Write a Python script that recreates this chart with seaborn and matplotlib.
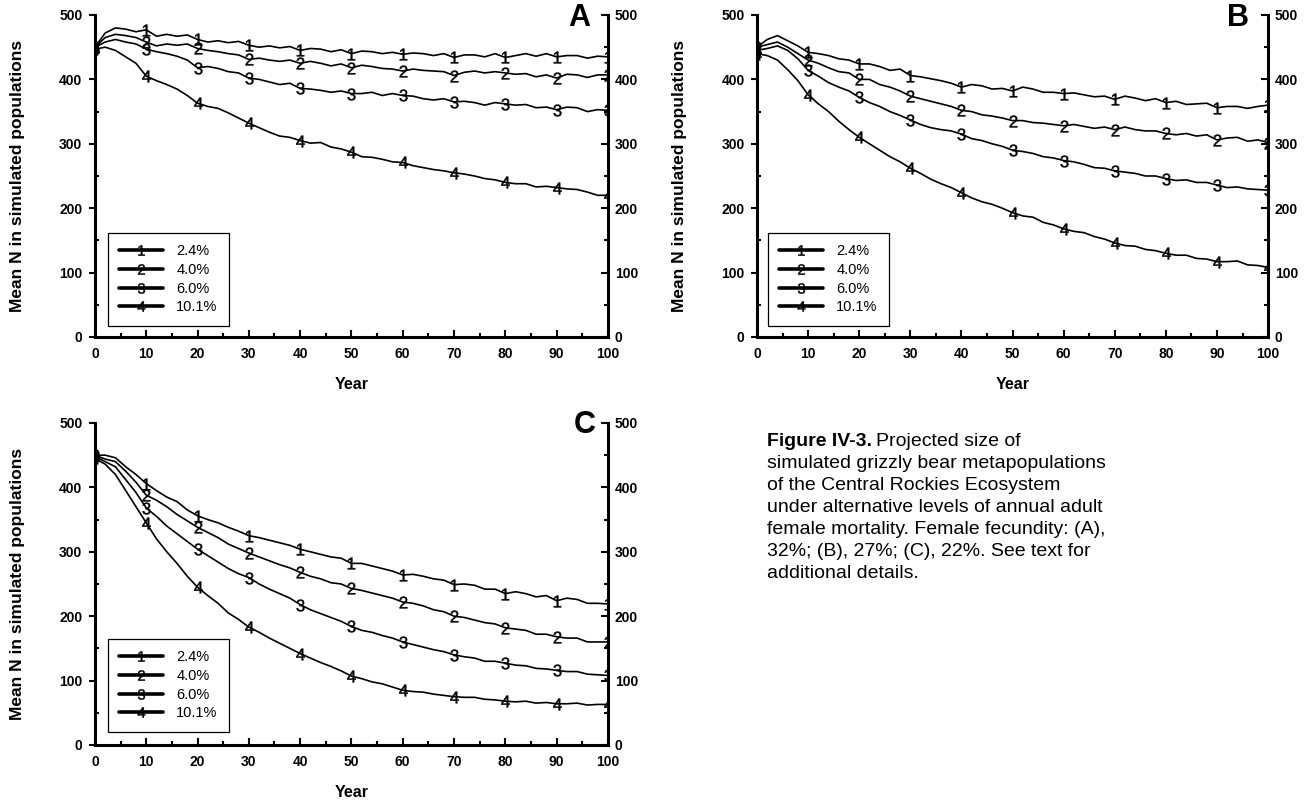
import matplotlib
matplotlib.use("Agg")
import matplotlib.pyplot as plt
import pandas as pd
import seaborn as sns
from matplotlib.lines import Line2D

# ---------------- data ----------------
years = list(range(0, 101, 2))
mortality_labels = ["2.4%", "4.0%", "6.0%", "10.1%"]
panel_letters = ["A", "B", "C"]

a_24 = [450, 472, 480, 478, 474, 477, 467, 470, 467, 469,
        462, 458, 460, 457, 459, 453, 450, 452, 449, 451,
        445, 448, 447, 443, 446, 440, 444, 443, 440, 442,
        439, 441, 440, 437, 440, 434, 438, 438, 435, 440,
        434, 437, 440, 436, 440, 435, 437, 437, 433, 436,
        435]
a_40 = [450, 465, 470, 468, 465, 458, 452, 455, 453, 455,
        448, 445, 443, 440, 438, 431, 433, 430, 428, 430,
        425, 428, 425, 421, 424, 418, 422, 420, 417, 416,
        413, 416, 414, 413, 412, 406, 411, 413, 410, 412,
        410, 408, 409, 404, 407, 402, 408, 407, 403, 407,
        407]
a_60 = [450, 458, 462, 458, 455, 447, 443, 440, 436, 430,
        418, 420, 417, 412, 410, 402, 400, 396, 392, 394,
        386, 385, 383, 380, 382, 378, 378, 380, 375, 378,
        375, 374, 370, 368, 370, 365, 366, 364, 360, 364,
        362, 360, 361, 356, 357, 353, 357, 356, 350, 353,
        352]
a_101 = [447, 450, 445, 435, 425, 405, 398, 392, 385, 375,
         363, 358, 355, 348, 340, 332, 325, 318, 312, 310,
         305, 301, 302, 295, 292, 287, 280, 279, 276, 272,
         271, 266, 263, 260, 258, 255, 253, 250, 246, 244,
         240, 238, 238, 233, 234, 232, 230, 229, 225, 220,
         220]

b_24 = [450, 462, 468, 460, 452, 442, 440, 437, 432, 430,
        424, 424, 420, 414, 416, 406, 404, 401, 398, 394,
        388, 392, 390, 385, 386, 382, 388, 385, 380, 380,
        378, 379, 376, 373, 374, 369, 374, 371, 367, 370,
        364, 366, 361, 362, 363, 356, 358, 358, 355, 358,
        360]
b_40 = [450, 454, 458, 450, 440, 430, 425, 418, 412, 410,
        400, 400, 392, 388, 382, 374, 370, 366, 362, 358,
        352, 350, 345, 343, 340, 336, 336, 333, 332, 330,
        328, 330, 327, 324, 326, 322, 326, 322, 320, 320,
        316, 314, 316, 312, 314, 306, 309, 310, 304, 306,
        302]
b_60 = [445, 448, 452, 445, 432, 414, 405, 395, 388, 382,
        372, 364, 358, 350, 344, 337, 330, 325, 322, 320,
        315, 308, 305, 300, 296, 290, 288, 285, 280, 278,
        274, 272, 268, 263, 262, 258, 256, 254, 250, 250,
        246, 243, 244, 240, 240, 236, 232, 233, 230, 229,
        228]
b_101 = [440, 437, 430, 415, 398, 376, 362, 350, 335, 322,
         310, 300, 290, 280, 272, 262, 254, 245, 238, 232,
         224, 216, 210, 206, 200, 193, 188, 186, 178, 174,
         168, 164, 162, 156, 152, 146, 142, 141, 136, 134,
         130, 127, 127, 122, 121, 117, 117, 118, 112, 111,
         108]

c_24 = [450, 450, 446, 432, 420, 406, 395, 385, 378, 365,
        356, 350, 345, 338, 332, 325, 322, 318, 314, 310,
        304, 300, 296, 292, 290, 282, 282, 278, 274, 270,
        264, 265, 262, 258, 256, 249, 250, 248, 242, 242,
        235, 238, 235, 230, 232, 224, 228, 226, 220, 220,
        219]
c_40 = [450, 444, 440, 425, 408, 388, 380, 370, 358, 348,
        338, 330, 322, 312, 305, 298, 292, 286, 280, 275,
        268, 262, 258, 252, 250, 243, 240, 236, 232, 228,
        222, 220, 216, 210, 207, 200, 198, 194, 190, 188,
        182, 180, 178, 172, 172, 168, 166, 166, 160, 160,
        160]
c_60 = [448, 440, 432, 412, 392, 368, 355, 340, 328, 316,
        304, 294, 284, 274, 266, 260, 250, 242, 235, 228,
        218, 210, 204, 198, 192, 184, 178, 175, 170, 166,
        160, 156, 152, 148, 145, 140, 137, 135, 130, 130,
        127, 124, 123, 119, 118, 116, 114, 114, 110, 109,
        108]
c_101 = [445, 436, 420, 395, 370, 345, 320, 300, 282, 262,
         245, 232, 220, 205, 195, 183, 175, 166, 158, 150,
         142, 135, 128, 122, 115, 107, 103, 98, 95, 90,
         85, 83, 82, 79, 77, 75, 74, 74, 71, 70,
         68, 67, 68, 65, 66, 64, 64, 65, 62, 63,
         63]

caption_lines = [
    "simulated grizzly bear metapopulations",
    "of the Central Rockies Ecosystem",
    "under alternative levels of annual adult",
    "female mortality. Female fecundity: (A),",
    "32%; (B), 27%; (C), 22%. See text for",
    "additional details.",
]

# ---------------- style ----------------
sns.set_style("ticks")
plt.rcParams["font.family"] = ["Liberation Sans", "DejaVu Sans"]
plt.rcParams["mathtext.fontset"] = "custom"
plt.rcParams["mathtext.rm"] = "Liberation Sans"
plt.rcParams["mathtext.it"] = "Liberation Sans"
plt.rcParams["mathtext.default"] = "regular"
for key in ["text.color", "axes.labelcolor", "xtick.color", "ytick.color", "axes.edgecolor"]:
    plt.rcParams[key] = "black"

W, H = 1315, 806
fig = plt.figure(figsize=(W / 100, H / 100), dpi=100)

panels = {
    "A": ([a_24, a_40, a_60, a_101], [0.0722, 0.5819, 0.3901, 0.3995], 0.945, 0.992, 0.025, 0.034),
    "B": ([b_24, b_40, b_60, b_101], [0.5757, 0.5819, 0.3886, 0.3995], 0.941, 0.992, 0.021, 0.034),
    "C": ([c_24, c_40, c_60, c_101], [0.0722, 0.0757, 0.3901, 0.3995], 0.955, 0.994, 0.025, 0.040),
}

SPINE_LW = 2.2
for letter in panel_letters:
    series, rect, lx, ly, legx, legy = panels[letter]
    ax = fig.add_axes(rect)
    for i, vals in enumerate(series):
        df = pd.DataFrame({"Year": years, "N": vals})
        sns.lineplot(data=df, x="Year", y="N", ax=ax, color="black", lw=1.2,
                     marker=f"${i + 1}$", markevery=5, markersize=8.5,
                     markerfacecolor="black", markeredgecolor="black",
                     markeredgewidth=0.3, estimator=None)
    ax.set_xlim(0, 100)
    ax.set_ylim(0, 500)
    ax.set_xticks(range(0, 101, 10))
    ax.set_xticks(range(5, 100, 10), minor=True)
    ax.set_yticks(range(0, 501, 100))
    ax.set_yticks(range(50, 500, 100), minor=True)
    ax.spines["top"].set_visible(False)
    ax.spines["right"].set_visible(False)
    for s in ["left", "bottom"]:
        ax.spines[s].set_linewidth(SPINE_LW)
        ax.spines[s].set_color("black")
    ax.tick_params(axis="x", which="major", direction="in", length=5, width=1.5,
                   pad=7, labelsize=10, colors="black")
    ax.tick_params(axis="x", which="minor", direction="in", length=3, width=1.5)
    ax.tick_params(axis="y", which="major", direction="out", length=4, width=1.5,
                   pad=5, labelsize=10, colors="black")
    ax.tick_params(axis="y", which="minor", direction="in", length=3, width=1.5)
    for t in ax.get_xticklabels() + ax.get_yticklabels():
        t.set_fontweight("bold")

    sec = ax.secondary_yaxis("right")
    sec.set_yticks(range(0, 501, 100))
    sec.set_yticks(range(50, 500, 100), minor=True)
    sec.spines["right"].set_linewidth(SPINE_LW)
    sec.spines["right"].set_color("black")
    sec.tick_params(axis="y", which="major", direction="in", length=5, width=1.5,
                    pad=5, labelsize=10, colors="black")
    sec.tick_params(axis="y", which="minor", direction="in", length=3, width=1.5)
    for t in sec.get_yticklabels():
        t.set_fontweight("bold")

    ax.set_xlabel("Year", fontsize=11.5, fontweight="bold")
    ax.xaxis.set_label_coords(0.5, -0.125)
    ax.set_ylabel("Mean N in simulated populations", fontsize=12.5, fontweight="bold")
    ax.yaxis.set_label_coords(-0.137, 0.5)

    ax.text(lx, ly, letter, transform=ax.transAxes, fontsize=22, fontweight="bold",
            ha="center", va="center")

    handles = [Line2D([0], [0], color="black", lw=2.6, marker=f"${i + 1}$",
                      markersize=7.5, markerfacecolor="black", markeredgecolor="black",
                      markeredgewidth=0.3)
               for i in range(4)]
    leg = ax.legend(handles, mortality_labels, loc="lower left",
                    bbox_to_anchor=(legx, legy), borderaxespad=0, fontsize=10.5,
                    frameon=True, fancybox=False, framealpha=1, edgecolor="black",
                    handlelength=3.0, handletextpad=0.9, labelspacing=0.32,
                    borderpad=0.8, numpoints=1)
    leg.get_frame().set_linewidth(0.9)
    for t in leg.get_texts():
        t.set_color("black")

# ---------------- caption ----------------
renderer = fig.canvas.get_renderer()
cap_x = 767 / W
cap_y0 = 1 - 442 / H
pitch = 22 / H
CAP_FS = 14
t0 = fig.text(cap_x, cap_y0, "Figure IV-3.", fontsize=CAP_FS, fontweight="bold", va="center")
bb = t0.get_window_extent(renderer=renderer)
fig.text((bb.x1 + 4) / W, cap_y0, "Projected size of", fontsize=CAP_FS, va="center")
for k, line in enumerate(caption_lines, start=1):
    fig.text(cap_x, cap_y0 - k * pitch, line, fontsize=CAP_FS, va="center")

fig.savefig("out.png", dpi=100)
